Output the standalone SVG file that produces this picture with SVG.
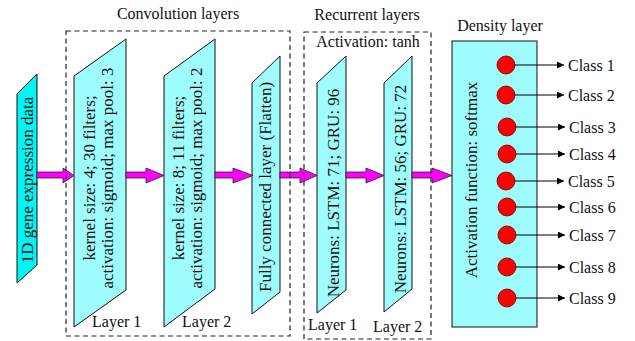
<svg xmlns="http://www.w3.org/2000/svg" width="635" height="341" viewBox="0 0 635 341" font-family="'Liberation Serif', 'DejaVu Serif', serif">
<defs>
<style>
text{font-family:'Liberation Serif','DejaVu Serif',serif;fill:#111;}
.t16{font-size:16px;}
.t17{font-size:17px;}
.rot{text-anchor:middle;}
.node{stroke:#111;stroke-width:1;}
.lc{fill:#9ffcfc;}
.cy{fill:#00f5f5;}
.arr{fill:#ff00ff;stroke:#222;stroke-width:0.8;}
.dash{fill:none;stroke:#222;stroke-width:1.2;stroke-dasharray:5,3.5;}
.out{stroke:#000;stroke-width:1;fill:none;}
.dot{fill:#f00;stroke:#600;stroke-width:0.8;}
</style>
<marker id="ah" viewBox="0 0 10 10" refX="10" refY="5" markerWidth="8" markerHeight="7" markerUnits="userSpaceOnUse" orient="auto">
<path d="M0,0 L10,5 L0,10 z" fill="#000"/>
</marker>
</defs>
<rect width="635" height="341" fill="#fff"/>

<g id="input">
<polygon class="node cy" points="17,94 37,74 37,265 17,283"/>
<text class="t17 rot" transform="translate(33,180) rotate(-90)">1D gene expression data</text>
</g>

<g id="conv1">
<polygon class="node lc" points="74,76 126,39 126,290 74,327"/>
<text class="t17 rot" transform="translate(95,178) rotate(-90)">kernel size: 4; 30 filters;</text>
<text class="t17 rot" transform="translate(113,178) rotate(-90)">activation: sigmoid; max pool: 3</text>
<text class="t16" x="92" y="327">Layer 1</text>
</g>

<g id="conv2">
<polygon class="node lc" points="164,76 215,39 215,289 164,327"/>
<text class="t17 rot" transform="translate(184,178) rotate(-90)">kernel size: 8; 11 filters;</text>
<text class="t17 rot" transform="translate(202,178) rotate(-90)">activation: sigmoid; max pool: 2</text>
<text class="t16" x="182" y="327">Layer 2</text>
</g>

<g id="flatten">
<polygon class="node lc" points="252,83 280,56 280,292 252,314"/>
<text class="t17 rot" transform="translate(271,187) rotate(-90)">Fully connected layer (Flatten)</text>
</g>

<g id="lstm1">
<polygon class="node lc" points="317,83 346,56 346,290 317,313"/>
<text class="t17 rot" transform="translate(339,193) rotate(-90)">Neurons: LSTM: 71; GRU: 96</text>
<text class="t16" x="308" y="330">Layer 1</text>
</g>

<g id="lstm2">
<polygon class="node lc" points="384,83 412,56 412,289 384,312"/>
<text class="t17 rot" transform="translate(406,189) rotate(-90)">Neurons: LSTM: 56; GRU: 72</text>
<text class="t16" x="373" y="332">Layer 2</text>
</g>

<g id="density">
<rect class="node lc" x="452" y="41" width="85" height="286"/>
<text class="t17 rot" transform="translate(477,180) rotate(-90)">Activation function: softmax</text>
<text class="t16" x="500" y="31" text-anchor="middle">Density layer</text>
</g>

<g id="connectors">
<path class="arr" d="M37,172 H63 V168 L74,175.5 L63,183 V178 H37 z"/>
<path class="arr" d="M126,172 H146 V168 L164,175.5 L146,183 V178 H126 z"/>
<path class="arr" d="M215,172 H233 V168 L253,175.5 L233,183 V178 H215 z"/>
<path class="arr" d="M280,172 H300 V168 L317,175.5 L300,183 V178 H280 z"/>
<path class="arr" d="M346,172 H366 V168 L384,175.5 L366,183 V178 H346 z"/>
<path class="arr" d="M412,172 H432 V168 L452,175.5 L432,183 V178 H412 z"/>
<line class="out" x1="506" y1="65" x2="564" y2="65" marker-end="url(#ah)"/>
<line class="out" x1="506" y1="95" x2="564" y2="95" marker-end="url(#ah)"/>
<line class="out" x1="507" y1="127" x2="565" y2="127" marker-end="url(#ah)"/>
<line class="out" x1="507" y1="154" x2="565" y2="154" marker-end="url(#ah)"/>
<line class="out" x1="506" y1="181" x2="564" y2="181" marker-end="url(#ah)"/>
<line class="out" x1="507" y1="207" x2="565" y2="207" marker-end="url(#ah)"/>
<line class="out" x1="507" y1="235" x2="565" y2="235" marker-end="url(#ah)"/>
<line class="out" x1="507" y1="267" x2="565" y2="267" marker-end="url(#ah)"/>
<line class="out" x1="507" y1="298" x2="565" y2="298" marker-end="url(#ah)"/>
</g>

<g id="classes">
<circle class="dot" cx="506" cy="65" r="9"/>
<circle class="dot" cx="506" cy="95" r="9"/>
<circle class="dot" cx="507" cy="127" r="9"/>
<circle class="dot" cx="507" cy="154" r="9"/>
<circle class="dot" cx="506" cy="181" r="9"/>
<circle class="dot" cx="507" cy="207" r="9"/>
<circle class="dot" cx="507" cy="235" r="9"/>
<circle class="dot" cx="507" cy="267" r="9"/>
<circle class="dot" cx="507" cy="298" r="9"/>
<text class="t16" x="568" y="71">Class 1</text>
<text class="t16" x="568" y="101">Class 2</text>
<text class="t16" x="569" y="133">Class 3</text>
<text class="t16" x="569" y="160">Class 4</text>
<text class="t16" x="568" y="187">Class 5</text>
<text class="t16" x="569" y="213">Class 6</text>
<text class="t16" x="569" y="241">Class 7</text>
<text class="t16" x="569" y="273">Class 8</text>
<text class="t16" x="569" y="304">Class 9</text>
</g>

<g id="conv-group">
<rect class="dash" x="66" y="31" width="224" height="305"/>
<text class="t16" x="178" y="19" text-anchor="middle">Convolution layers</text>
</g>

<g id="recurrent-group">
<rect class="dash" x="304" y="32" width="127" height="307"/>
<text class="t16" x="367" y="20" text-anchor="middle">Recurrent layers</text>
<text class="t16" x="368" y="47" text-anchor="middle">Activation: tanh</text>
</g>
</svg>
